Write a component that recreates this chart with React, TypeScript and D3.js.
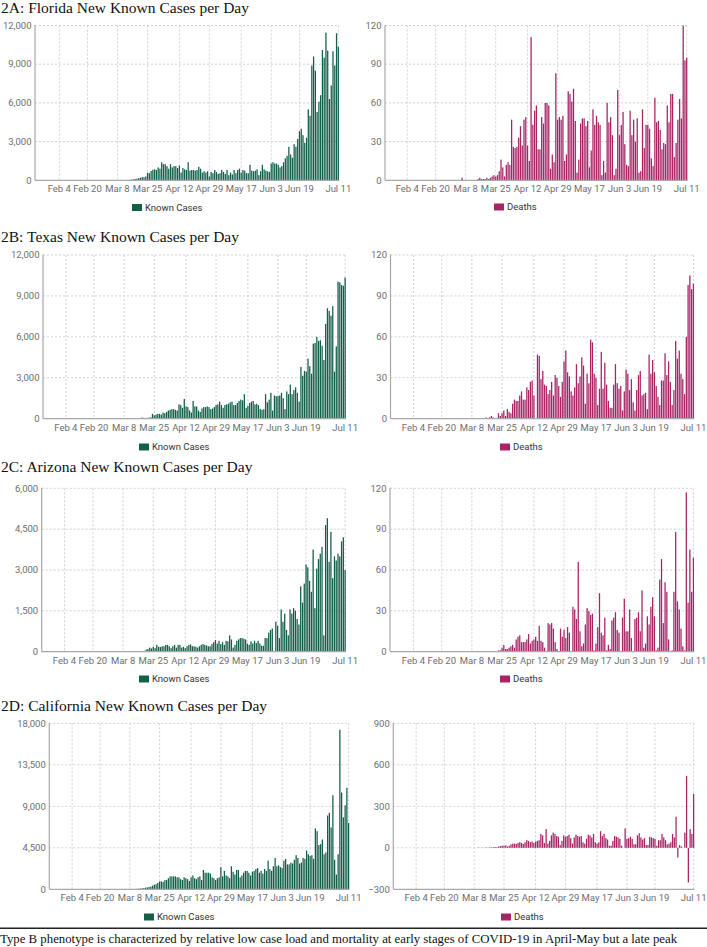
import React from "react";
import * as d3 from "d3";

// ---------- categories ----------
const AXIS_START = "2020-01-22";
const AXIS_END = "2020-07-11";
const DATA_START = "2020-03-01"; // series below run daily from Mar 1 to Jul 11 (earlier days = 0)
const X_TICK_LABELS = ["Feb 4", "Feb 20", "Mar 8", "Mar 25", "Apr 12", "Apr 29", "May 17", "Jun 3", "Jun 19", "Jul 11"];

// ---------- tick values ----------
const TICKS_12K = [0, 3000, 6000, 9000, 12000];
const TICKS_120 = [0, 30, 60, 90, 120];
const TICKS_AZ_CASES = [0, 1500, 3000, 4500, 6000];
const TICKS_CA_CASES = [0, 4500, 9000, 13500, 18000];
const TICKS_CA_DEATHS = [-300, 0, 300, 600, 900];

// ---------- series (Mar 1 .. Jul 11) ----------
const FL_CASES = [
  2, 1, 4, 3, 5, 8, 4, 11, 8, 11,
  10, 20, 25, 30, 40, 60, 70, 100, 130, 170,
  200, 250, 230, 300, 600, 550, 720, 820, 850, 800, 1000,
  900, 1400, 1250, 1250, 1100, 900, 1250, 1000, 1100, 1100,
  950, 1150, 600, 950, 850, 800, 1400, 750, 800, 800,
  750, 800, 1050, 900, 600, 700, 600, 700, 300, 650,
  550, 800, 650, 500, 550, 800, 650, 500, 800, 400,
  600, 450, 800, 550, 800, 900, 600, 800, 750, 550,
  550, 1200, 750, 700, 750, 850, 400, 700, 1200, 850, 750,
  700, 650, 1300, 1400, 1300, 1300, 1200, 1000, 1100, 1400,
  1700, 1900, 2600, 2000, 1750, 2800, 2600, 3200, 3800, 4000,
  3500, 2900, 3300, 5500, 5000, 8900, 9600, 8500, 5300, 6100,
  6600, 10100, 9500, 11450, 10050, 6300, 7350, 10000, 8900, 11400, 10350,
];
const FL_DEATHS = [
  0, 0, 0, 0, 0, 2, 0, 0, 0, 0,
  0, 0, 0, 0, 1, 2, 1, 1, 1, 2,
  1, 2, 3, 4, 3, 4, 7, 16, 10, 3, 12,
  14, 12, 47, 26, 25, 26, 33, 42, 27, 47,
  49, 27, 15, 111, 43, 54, 58, 24, 24, 49,
  44, 60, 60, 58, 9, 20, 14, 83, 47, 49,
  47, 50, 15, 20, 69, 67, 61, 71, 46, 6,
  16, 44, 48, 48, 42, 46, 10, 23, 55, 43,
  50, 45, 43, 4, 15, 6, 60, 45, 49, 35, 4,
  9, 70, 35, 43, 53, 28, 12, 11, 54, 35,
  47, 30, 48, 6, 7, 55, 25, 43, 43, 40,
  17, 11, 64, 45, 46, 39, 24, 29, 28, 58,
  45, 67, 67, 18, 29, 47, 63, 48, 120, 93, 95,
];
const TX_CASES = [
  0, 0, 0, 0, 1, 3, 4, 2, 1, 3,
  8, 6, 10, 16, 10, 10, 20, 90, 60, 50,
  60, 80, 100, 350, 250, 300, 350, 350, 300, 450, 400,
  500, 600, 650, 700, 700, 650, 600, 1050, 1000, 800,
  1450, 900, 850, 600, 450, 1300, 900, 900, 600, 500,
  750, 850, 850, 900, 850, 700, 750, 850, 1000, 1050,
  1250, 1000, 800, 1000, 1050, 1100, 1200, 1250, 1000, 1000,
  1150, 1300, 1400, 1350, 1800, 800, 950, 1150, 1250, 1300,
  1050, 1100, 1000, 700, 650, 700, 1800, 1200, 1400, 1900, 600,
  1700, 1650, 1650, 1700, 1900, 1500, 700, 2000, 1800, 2500,
  1800, 2100, 2300, 1900, 1250, 3800, 3150, 3500, 3450, 4400,
  3850, 3300, 5500, 5550, 6000, 5700, 5750, 5350, 4300, 6950,
  8100, 7900, 7550, 8250, 3450, 5300, 10050, 10000, 9800, 9750, 10350,
];
const TX_DEATHS = [
  0, 0, 0, 0, 0, 0, 0, 0, 0, 0,
  0, 0, 0, 0, 0, 1, 0, 1, 2, 1,
  0, 0, 4, 2, 4, 6, 2, 7, 5, 4, 11,
  14, 13, 13, 17, 20, 14, 14, 23, 21, 27,
  28, 17, 0, 47, 46, 29, 35, 25, 24, 18,
  21, 27, 17, 32, 30, 24, 16, 27, 42, 50,
  34, 31, 20, 17, 23, 40, 26, 31, 45, 39,
  11, 33, 26, 58, 56, 33, 30, 10, 22, 49,
  22, 41, 25, 13, 8, 8, 25, 40, 26, 22, 24,
  6, 20, 36, 33, 21, 29, 12, 6, 21, 32,
  35, 17, 18, 19, 7, 47, 33, 43, 34, 24,
  16, 10, 28, 28, 48, 32, 42, 27, 10, 21,
  57, 44, 50, 33, 29, 18, 60, 98, 105, 95, 99,
];
const AZ_CASES = [
  0, 0, 0, 0, 0, 1, 0, 1, 1, 2,
  3, 0, 1, 2, 0, 5, 8, 10, 20, 30,
  80, 100, 150, 120, 180, 130, 250, 180, 170, 200, 200,
  250, 250, 200, 130, 200, 250, 150, 250, 250, 150,
  180, 130, 200, 250, 270, 200, 200, 180, 150, 200,
  250, 280, 250, 230, 200, 200, 280, 350, 430, 300,
  400, 280, 350, 250, 400, 380, 600, 450, 150, 250,
  400, 450, 500, 500, 480, 450, 300, 250, 380, 300,
  400, 320, 400, 300, 220, 220, 500, 500, 700, 800, 850,
  0, 1100, 950, 500, 1550, 1100, 1400, 800, 600, 1550,
  1400, 1600, 1500, 1200, 1000, 2400, 1800, 2500, 3200, 3100,
  2600, 2200, 3750, 1600, 3050, 3400, 3600, 3850, 600, 4650,
  4900, 3300, 4400, 2700, 3500, 3350, 3600, 3500, 4050, 4200, 3000,
];
const AZ_DEATHS = [
  0, 0, 0, 0, 0, 0, 0, 0, 0, 0,
  0, 0, 0, 0, 0, 0, 0, 0, 0, 0,
  0, 0, 1, 1, 3, 5, 2, 2, 3, 4, 5,
  3, 9, 11, 12, 7, 7, 7, 9, 13, 6,
  8, 9, 11, 8, 19, 8, 7, 3, 0, 21,
  20, 21, 17, 7, 2, 0, 17, 11, 16, 10,
  18, 14, 0, 33, 31, 24, 66, 15, 4, 6,
  20, 32, 30, 27, 28, 1, 6, 18, 43, 14,
  12, 25, 1, 5, 2, 23, 25, 29, 16, 14, 0,
  25, 39, 15, 15, 31, 10, 0, 24, 25, 29,
  15, 45, 3, 6, 26, 20, 33, 40, 26, 1,
  3, 53, 68, 21, 51, 44, 9, 0, 1, 44,
  88, 37, 31, 17, 4, 1, 117, 36, 75, 44, 69,
];
const CA_CASES = [
  1, 2, 3, 5, 10, 20, 15, 20, 25, 25,
  40, 50, 60, 80, 100, 130, 180, 200, 250, 300,
  400, 500, 550, 700, 850, 850, 800, 1000, 1000, 1200, 1400,
  1400, 1400, 1400, 1300, 1300, 1100, 1000, 1300, 1200, 1100,
  900, 1300, 1500, 1200, 1100, 1300, 1400, 1000, 2100, 1800,
  1800, 1800, 1700, 1300, 1200, 1000, 1200, 1300, 2400, 1400,
  2000, 1500, 1400, 1200, 2500, 1900, 1600, 2100, 2100, 1300,
  1500, 1800, 2000, 2000, 1800, 1500, 1900, 2000, 2200, 2300,
  1800, 2000, 1700, 2200, 2000, 3100, 2200, 2000, 2500, 3400, 2500,
  2600, 2400, 2300, 3100, 3300, 2700, 2700, 2900, 2800, 3200,
  3700, 3400, 2800, 2900, 3400, 3300, 4200, 3800, 3600, 3700,
  3300, 6600, 6300, 4800, 4900, 5400, 3800, 4000, 8000, 8300,
  6700, 10200, 3200, 1600, 3800, 17300, 10500, 7800, 9100, 11000, 7200,
];
const CA_DEATHS = [
  0, 0, 0, 0, 1, 0, 0, 0, 0, 1,
  1, 1, 1, 1, 2, 2, 3, 3, 4, 5,
  5, 10, 12, 15, 15, 18, 10, 15, 25, 30, 30,
  28, 35, 40, 35, 28, 40, 55, 50, 40, 45,
  35, 45, 50, 55, 100, 90, 35, 135, 30, 50,
  90, 110, 100, 85, 80, 20, 50, 90, 80, 85,
  95, 70, 30, 75, 95, 85, 80, 85, 40, 30,
  65, 95, 90, 75, 100, 40, 30, 40, 120, 85,
  100, 70, 60, 15, 15, 50, 85, 80, 75, 65, 15,
  0, 140, 65, 70, 80, 65, 25, 25, 90, 105,
  75, 60, 70, 20, 20, 80, 75, 70, 65, 15,
  55, 55, 100, 75, 55, 25, 30, 40, 100, 75,
  225, -70, 20, 10, 0, 110, 520, -250, 135, 100, 390,
];

const TITLES = [
  "2A: Florida New Known Cases per Day",
  "2B: Texas New Known Cases per Day",
  "2C: Arizona New Known Cases per Day",
  "2D: California New Known Cases per Day",
];
const CAPTION =
  "Type B phenotype is characterized by relative low case load and mortality at early stages of COVID-19 in April-May but a late peak";
const LEGEND_CASES = "Known Cases";
const LEGEND_DEATHS = "Deaths";

// ---------- styling / layout ----------
const GREEN = "#13604a";
const MAGENTA = "#a82466";
const W = 707;
const H = 947;

type Geo = { ax: number; x0: number; x1: number; yt: number; yb: number; lx: number; ly: number };

const ROWS: { titleY: number; left: Geo; right: Geo }[] = [
  {
    titleY: 13,
    left: { ax: 35, x0: 35.4, x1: 339.2, yt: 25.5, yb: 180.3, lx: 132, ly: 207.5 },
    right: { ax: 385, x0: 383.4, x1: 687.6, yt: 25.5, yb: 180.3, lx: 494, ly: 207 },
  },
  {
    titleY: 241.5,
    left: { ax: 43, x0: 42, x1: 346, yt: 255, yb: 418.7, lx: 139, ly: 447 },
    right: { ax: 390.5, x0: 389.5, x1: 694.3, yt: 255, yb: 418.7, lx: 500, ly: 447 },
  },
  {
    titleY: 471.5,
    left: { ax: 41.7, x0: 40.5, x1: 346, yt: 488.3, yb: 651.7, lx: 139, ly: 679 },
    right: { ax: 390, x0: 389.5, x1: 694.3, yt: 488.3, yb: 651.7, lx: 500, ly: 679 },
  },
  {
    titleY: 710.5,
    left: { ax: 49.3, x0: 48.5, x1: 349.5, yt: 723.3, yb: 889.3, lx: 144, ly: 917 },
    right: { ax: 393.3, x0: 392.5, x1: 694.5, yt: 723.3, yb: 889.3, lx: 501, ly: 917 },
  },
];

const parse = d3.timeParse("%Y-%m-%d");
const key = d3.timeFormat("%Y-%m-%d");
const tickParse = d3.timeParse("%b %d %Y");
const ALL_DAYS = d3.timeDay.range(parse(AXIS_START)!, d3.timeDay.offset(parse(AXIS_END)!, 1)).map(key);
const dataKeys = (n: number) =>
  d3.timeDay.range(parse(DATA_START)!, d3.timeDay.offset(parse(DATA_START)!, n)).map(key);

const SANS = "Roboto, 'Noto Sans', sans-serif";
const SERIF = "'Liberation Serif', 'DejaVu Serif', serif";

function Panel({
  values,
  ticks,
  color,
  label,
  g,
}: {
  values: number[];
  ticks: number[];
  color: string;
  label: string;
  g: Geo;
}) {
  const x = d3.scaleBand<string>().domain(ALL_DAYS).range([g.x0, g.x1]).paddingInner(0.28).paddingOuter(0.14);
  const y = d3.scaleLinear().domain([ticks[0], ticks[ticks.length - 1]]).range([g.yb, g.yt]);
  const keys = dataKeys(values.length);
  const fmt = d3.format(",");
  const xt = X_TICK_LABELS.map((t) => ({ t, k: key(tickParse(t + " 2020")!) }));
  const bw = x.bandwidth();
  return (
    <g>
      {ticks.map((t) =>
        t === ticks[0] ? null : (
          <line key={"h" + t} x1={g.ax} x2={g.x1} y1={y(t)} y2={y(t)} stroke="#d2d2d2" strokeWidth={1} strokeDasharray="2,2" />
        )
      )}
      {xt.map(({ t, k }) => (
        <line
          key={"v" + t}
          x1={x(k)! + bw / 2}
          x2={x(k)! + bw / 2}
          y1={g.yt}
          y2={g.yb}
          stroke="#d2d2d2"
          strokeWidth={1}
          strokeDasharray="2,2"
        />
      ))}
      {values.map((v, i) =>
        v === 0 ? null : (
          <rect
            key={keys[i]}
            x={x(keys[i])!}
            width={bw}
            y={Math.min(y(v), y(0))}
            height={Math.abs(y(v) - y(0))}
            fill={color}
          />
        )
      )}
      <line x1={g.ax} x2={g.ax} y1={g.yt - 0.5} y2={g.yb} stroke="#a8a8a8" strokeWidth={1.2} />
      <line x1={g.ax} x2={g.x1} y1={g.yb} y2={g.yb} stroke="#a8a8a8" strokeWidth={1.2} />
      {ticks.map((t) => (
        <text key={"yl" + t} x={g.ax - 3.5} y={y(t)} dy="0.34em" textAnchor="end" fontFamily={SANS} fontSize={9.5} fill="#6e6e6e">
          {fmt(t)}
        </text>
      ))}
      {xt.map(({ t, k }) => (
        <text key={"xl" + t} x={x(k)! + bw / 2} y={g.yb + 12} textAnchor="middle" fontFamily={SANS} fontSize={9.5} fill="#6e6e6e">
          {t}
        </text>
      ))}
      <rect x={g.lx} y={g.ly - 3.5} width={10} height={7} fill={color} />
      <text x={g.lx + 13} y={g.ly} dy="0.35em" fontFamily={SANS} fontSize={9.5} fill="#333">
        {label}
      </text>
    </g>
  );
}

const SERIES = [
  { cases: FL_CASES, deaths: FL_DEATHS, cTicks: TICKS_12K, dTicks: TICKS_120 },
  { cases: TX_CASES, deaths: TX_DEATHS, cTicks: TICKS_12K, dTicks: TICKS_120 },
  { cases: AZ_CASES, deaths: AZ_DEATHS, cTicks: TICKS_AZ_CASES, dTicks: TICKS_120 },
  { cases: CA_CASES, deaths: CA_DEATHS, cTicks: TICKS_CA_CASES, dTicks: TICKS_CA_DEATHS },
];

export default function App() {
  return (
    <svg
      width={W}
      height={H}
      viewBox={`0 0 ${W} ${H}`}
      style={{ position: "absolute", left: 0, top: 0, background: "#fff" }}
    >
      <rect width={W} height={H} fill="#fff" />
      {ROWS.map((r, i) => (
        <g key={i}>
          <text x={1} y={r.titleY} fontFamily={SERIF} fontSize={15.5} fill="#111">
            {TITLES[i]}
          </text>
          <Panel values={SERIES[i].cases} ticks={SERIES[i].cTicks} color={GREEN} label={LEGEND_CASES} g={r.left} />
          <Panel values={SERIES[i].deaths} ticks={SERIES[i].dTicks} color={MAGENTA} label={LEGEND_DEATHS} g={r.right} />
        </g>
      ))}
      <line x1={0} x2={W} y1={928.3} y2={928.3} stroke="#222" strokeWidth={1.5} />
      <text x={0} y={943} fontFamily={SERIF} fontSize={12.8} fill="#111">
        {CAPTION}
      </text>
    </svg>
  );
}
